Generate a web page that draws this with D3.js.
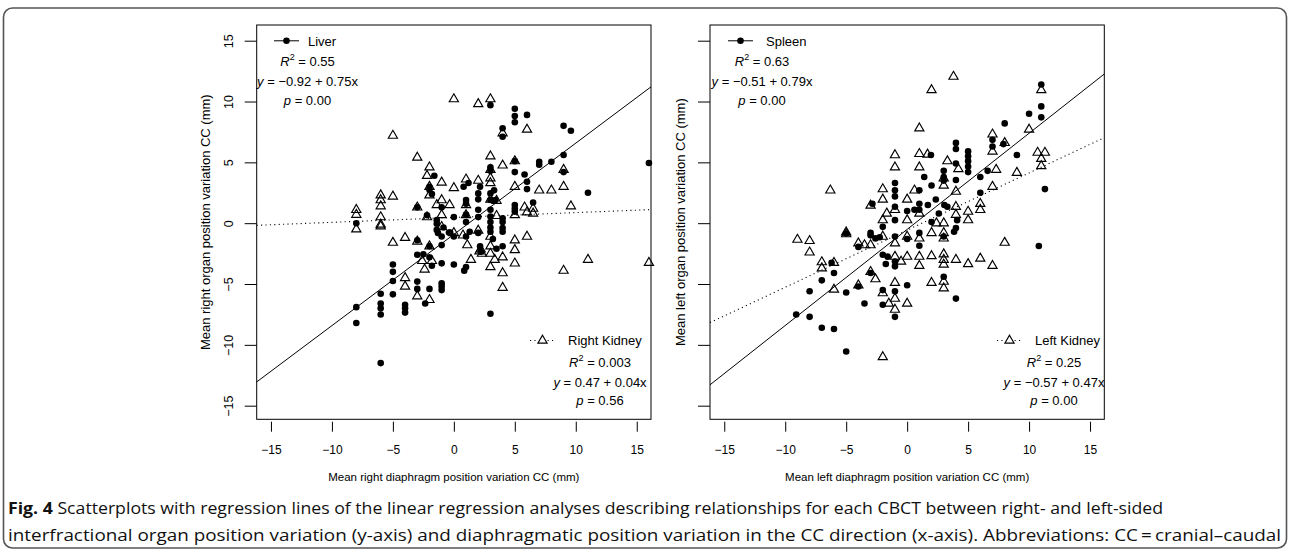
<!DOCTYPE html>
<html>
<head>
<meta charset="utf-8">
<script src="https://cdn.jsdelivr.net/npm/d3@7"></script>
<style>
  body { margin: 0; background: #fff; }
  svg { display: block; font-family: "Liberation Sans", Arial, sans-serif; }
</style>
</head>
<body>
<svg id="chart" width="1290" height="550"></svg>
<script>
// values (x = diaphragm, y = organ, mm)
const axisTicks = [-15, -10, -5, 0, 5, 10, 15];

const liver = [
  [-8, 0.0], [-8, -6.9], [-8, -8.2],
  [-6, -5.8], [-6, -6.6], [-6, -7.0], [-6, -7.5], [-6, -11.5],
  [-5, -3.4], [-5, -4.0], [-5, -4.75], [-5, -5.85],
  [-4, -6.7], [-4, -7.0], [-4, -7.35],
  [-3, 1.3], [-3, -1.4], [-3, -2.6], [-3, -4.8], [-3, -5.4],
  [-2.5, -2.55], [-2.35, -6.6], [-2.2, 0.65],
  [-2, 3.0], [-2, 2.75], [-2, -1.9], [-2, -2.8], [-2, -5.4],
  [-1.8, 2.4], [-1.8, -3.5], [-1.6, 3.9],
  [-1.4, 0.25], [-1.4, -0.05], [-1.4, -0.55], [-1.3, -0.8],
  [-1, 1.3], [-1, -1.1], [-1, -1.8], [-1, -3.3], [-1, -4.95], [-1, -5.2], [-1, -5.5],
  [-0.85, -0.35], [-0.4, -0.76], [-0.3, -0.78],
  [0, -1.1], [0, -3.4], [0, 0.5],
  [0.8, 3.0], [0.85, -3.9], [1, -3.6], [1, 1.9], [1, 1.6], [1, 0.7], [1, 0.1],
  [1, -1.1], [1.2, 3.3], [1.3, -0.7],
  [2, 2.45], [2, 1.96], [2, 1.1], [2, 0.5], [2.15, 3.0], [2, -0.8], [2.15, -1.9], [2.2, -2.35],
  [3, 9.7], [3, 4.6], [3, 4.3], [3, 2.45], [3, 1.9], [3, 1.1], [3, 0.55], [3, 0.1],
  [3, -0.35], [3, -0.7], [3.3, 2.7], [3.4, 1.9], [3.5, -2.1], [3, -7.45], [3.2, -1.3],
  [4, 7.8], [4, 7.1], [4, 0.4], [4, 0.1], [4, -0.4], [4, -0.7], [4, -1.9],
  [5, 9.4], [5, 8.8], [5, 8.3], [5, 5.1], [5, 4.2], [5, 1.2], [5, 0.95], [5, 1.5],
  [5.8, 4.0], [6, 8.9], [6, 3.4], [6, 2.8], [6.5, 1.7],
  [7, 5.05], [7, 4.8], [8, 5.05], [9, 8.0], [9.6, 7.6], [9, 5.6], [9, 4.2],
  [11, 2.5], [16, 4.95]
];

const rightKidney = [
  [-8, 1.1], [-8, 0.7], [-8, -0.5],
  [-6, 2.3], [-6, 1.9], [-6, 1.4], [-6, 0.5], [-6, -0.1], [-6, -0.25],
  [-5, 7.2], [-5, 2.2], [-5, -1.6],
  [-4, -1.2], [-4, -4.5], [-4, -5.2],
  [-3, 5.4], [-3, 1.3], [-3, -1.5], [-3, -6.0],
  [-2.6, -3.1], [-2.4, -3.8], [-2.2, 3.9], [-2.2, 0.5],
  [-2, 4.6], [-2, 3.0], [-2, 2.3], [-2, -1.9], [-2, -6.3],
  [-1.8, -3.1], [-1.4, 1.5], [-1, 3.35], [-1, 1.9], [-1, 0.67], [-1, -0.3], [-0.35, 1.5],
  [0, 10.2], [0, 2.9], [0, -0.8], [0.75, -1.0], [1, 3.6], [1, 1.5], [1, 0.67],
  [1.1, -1.8], [1.4, -3.0],
  [2, 9.8], [2, 3.5], [2, -0.6], [2.1, -2.3], [2.3, -2.5], [2.2, -2.15],
  [3, 10.2], [3, 5.5], [3, 4.4], [3, 3.7], [3, 3.3], [3, 1.95], [3, -1.1], [3, -1.9],
  [3, -2.5], [3, -3.6], [3.35, -3.0], [3.5, 1.85], [3.5, 0.6],
  [4, 7.4], [4, 4.75], [4, -2.8], [4, -4.1], [4, -5.3],
  [5, 5.1], [5, 3.0], [5, 0.67], [5, -1.4], [5, -2.2], [5, -3.3],
  [5.8, 1.3], [6, 7.7], [6, 0.9], [6, -1.1], [6.5, 1.2], [6.5, 0.8],
  [7, 2.7], [8, 2.7], [9, 4.4], [9, 3.0], [9, -3.9], [9.6, 1.4], [11, -3.0], [16, -3.25]
];

const spleen = [
  [-9.1, -7.5], [-8, -7.7], [-8, -5.6], [-7, -4.7], [-7, -8.6], [-6.2, -3.25],
  [-6, -4.1], [-6, -8.7], [-5, -5.7], [-5, -10.55], [-5, -0.85],
  [-4, -1.95], [-4, -5.2], [-3.5, -6.6], [-3, -0.8], [-3, -1.0], [-3, -4.1],
  [-2.85, 1.6], [-2.6, -1.25], [-2.25, -1.15], [-2, -0.3], [-2, -2.6], [-2, -5.5],
  [-2, -6.7], [-1.75, -3.35], [-1.6, -2.75],
  [-1, 3.3], [-1, 2.7], [-1, 2.2], [-1, 1.35], [-1, 0.25], [-1, -1.1], [-1, -3.15],
  [-1, -3.55], [-1, -5.6], [-1, -7.7],
  [0, 1.0], [0, -1.3], [0, -5.1], [0.6, 1.1],
  [1, 2.7], [1, 1.6], [1, 1.1], [1, -0.8], [1, -1.85], [1.4, 3.8], [1.7, 1.5],
  [1.95, 5.6], [2, 3.1], [2, 0.1], [2.35, 1.95], [2.6, 0.8],
  [3, 4.3], [3, 3.8], [3, 3.5], [3, -1.1], [3, -4.4], [3.05, 1.5], [3.3, 1.35], [3.85, -0.7],
  [4, 6.6], [4, 6.1], [4, 4.9], [4, 3.55], [4, -0.4], [4, -6.2], [4.1, 0.25],
  [5, 5.9], [5, 5.5], [5, 5.1], [5, 4.65], [5, 4.2],
  [6, 3.8], [6, 2.5], [6.6, 4.3],
  [7, 6.85], [7, 6.3], [7.9, 6.5], [8, 8.2], [9, 5.6], [10, 9.0], [10.8, -1.87],
  [11, 11.4], [11, 9.6], [11, 8.7], [11.3, 2.8]
];

const leftKidney = [
  [-9, -1.35], [-8, -1.45], [-8, -2.4], [-7, -3.2], [-7, -3.7], [-6.3, 2.7],
  [-6, -3.25], [-6, -5.45], [-5, -0.75], [-5, -0.9],
  [-4, -1.65], [-4, -5.1], [-3.5, -1.8], [-3, -1.8], [-3, 1.45], [-3, -4.0], [-2.6, -4.6],
  [-2, 2.8], [-2, 1.95], [-2, 0.25], [-2, -1.1], [-2, -5.75], [-2, -11.0],
  [-1.67, 0.8], [-1.5, -6.6],
  [-1, 5.6], [-1, 4.6], [-1, 1.1], [-1, -1.65], [-1, -2.75], [-1, -4.9], [-1, -6.2],
  [-1, -7.1], [-0.5, -3.15],
  [0, 1.95], [0, 0.25], [0, -1.1], [0, -2.75], [0, -6.6], [0.6, 2.7],
  [1, 7.8], [1, 5.7], [1, 4.6], [1, 0.8], [1, -1.25], [1, -2.75], [1, -3.5], [1.67, 5.65],
  [2, 10.95], [2, -0.8], [2, -2.7], [2, -4.9], [2.4, 0.0],
  [3, 3.7], [3, 3.1], [3, 0.0], [3, -0.8], [3, -1.25], [3, -2.55], [3, -3.0], [3, -3.4],
  [3, -4.8], [3, -5.35], [3.3, 5.1], [3.8, 12.05],
  [4, 2.6], [4, 1.35], [4, 0.7], [4, -3.0], [4.2, 4.45],
  [5, 0.95], [5, 0.25], [5, -3.35],
  [6, 1.6], [6, 1.1], [6, -2.9],
  [7, 7.3], [7, 5.9], [7, 3.0], [7, -3.5], [7.3, 4.4],
  [8, 6.6], [8, -1.6], [9, 4.15], [10, 7.7], [10.7, 5.8], [11.3, 5.8], [11, 5.3],
  [11, 4.7], [11, 10.95]
];

// regression fits [intercept, slope] and stats as printed
const liverFit = [-0.92, 0.75];
const rightKidneyFit = [0.47, 0.04];
const spleenFit = [-0.51, 0.79];
const leftKidneyFit = [-0.57, 0.47];
const rSquared = { liver: "0.55", rightKidney: "0.003", spleen: "0.63", leftKidney: "0.25" };
const pValues = { liver: "0.00", rightKidney: "0.56", spleen: "0.00", leftKidney: "0.00" };

const caption = [
  "Scatterplots with regression lines of the linear regression analyses describing relationships for each CBCT between right- and left-sided",
  "interfractional organ position variation (y-axis) and diaphragmatic position variation in the CC direction (x-axis). Abbreviations: CC\u2009=\u2009cranial\u2013caudal"
];

const plot = { top: 25, bottom: 419.3, width: 394.3 };
const xDomain = [-16.17, 16.17];
const yDomain = [-16.12, 16.29];
const fmt = d3.format(".2f");

const panels = [
  {
    left: 256.7,
    xLabel: "Mean right diaphragm position variation CC (mm)",
    yLabel: "Mean right organ position variation CC (mm)",
    yTickLabels: true, yLabelX: 210,
    solid: { name: "Liver", points: liver, fit: liverFit, r2: rSquared.liver, p: pValues.liver },
    dotted: { name: "Right Kidney", points: rightKidney, fit: rightKidneyFit, r2: rSquared.rightKidney, p: pValues.rightKidney },
    topKey: { lineX: 274, textX: 308, center: 307.5 },
    bottomKey: { lineX: 530, textX: 568, center: 600 }
  },
  {
    left: 710,
    xLabel: "Mean left diaphragm position variation CC (mm)",
    yLabel: "Mean left organ position variation CC (mm)",
    yTickLabels: false, yLabelX: 685,
    solid: { name: "Spleen", points: spleen, fit: spleenFit, r2: rSquared.spleen, p: pValues.spleen },
    dotted: { name: "Left Kidney", points: leftKidney, fit: leftKidneyFit, r2: rSquared.leftKidney, p: pValues.leftKidney },
    topKey: { lineX: 728, textX: 766, center: 762 },
    bottomKey: { lineX: 997, textX: 1035, center: 1054 }
  }
];

const trianglePath = "M0,-5.3L4.6,2.65L-4.6,2.65Z";

const addStats = (g, series, cx, baselines) => {
  const r2 = g.append("text").attr("x", cx).attr("y", baselines[0]).attr("text-anchor", "middle");
  r2.append("tspan").attr("font-style", "italic").text("R");
  r2.append("tspan").attr("font-size", 9).attr("dy", -5.5).text("2");
  r2.append("tspan").attr("dy", 5.5).text(" = " + series.r2);

  const eq = g.append("text").attr("x", cx).attr("y", baselines[1]).attr("text-anchor", "middle");
  eq.append("tspan").attr("font-style", "italic").text("y");
  eq.append("tspan").text(` = ${fmt(series.fit[0])} + ${fmt(series.fit[1])}x`);

  const p = g.append("text").attr("x", cx).attr("y", baselines[2]).attr("text-anchor", "middle");
  p.append("tspan").attr("font-style", "italic").text("p");
  p.append("tspan").text(" = " + series.p);
};

const drawPanel = (svg, panel) => {
  const x = d3.scaleLinear().domain(xDomain).range([panel.left, panel.left + plot.width]);
  const y = d3.scaleLinear().domain(yDomain).range([plot.bottom, plot.top]);
  const g = svg.append("g").attr("font-size", 13).attr("fill", "#000");

  // x axis: ticks sit a little below the box
  const xAxis = g.append("g").attr("transform", `translate(0,${plot.bottom + 2.4})`)
    .call(d3.axisBottom(x).tickValues(axisTicks).tickSize(10).tickPadding(14)
      .tickFormat(d3.format("d")));
  xAxis.select(".domain").remove();
  xAxis.selectAll("text").attr("font-size", 12).attr("font-family", "Liberation Sans, Arial, sans-serif")
    .attr("fill", "#000").attr("dy", "0.71em");

  // y axis
  const yAxis = g.append("g").attr("transform", `translate(${panel.left},0)`)
    .call(d3.axisLeft(y).tickValues(axisTicks).tickSize(12)
      .tickFormat(panel.yTickLabels ? d3.format("d") : ""));
  yAxis.select(".domain").remove();
  yAxis.selectAll("text").attr("font-size", 12.5).attr("font-family", "Liberation Sans, Arial, sans-serif")
    .attr("fill", "#000").attr("text-anchor", "middle").attr("dy", 0).attr("x", 0)
    .attr("transform", "translate(-23.5,0) rotate(-90)");
  g.selectAll(".tick line").attr("stroke", "#000");

  g.append("rect")
    .attr("x", panel.left).attr("y", plot.top)
    .attr("width", plot.width).attr("height", plot.bottom - plot.top)
    .attr("fill", "none").attr("stroke", "#000").attr("stroke-width", 1);

  g.append("text")
    .attr("x", x(0)).attr("y", 481).attr("text-anchor", "middle").attr("font-size", 11.5)
    .text(panel.xLabel);
  g.append("text")
    .attr("transform", `translate(${panel.yLabelX},${y(0) - 1}) rotate(-90)`)
    .attr("text-anchor", "middle").attr("font-size", 13)
    .text(panel.yLabel);

  // regression lines across the full x range
  const fitLine = fit => d3.line().x(d => x(d)).y(d => y(fit[0] + fit[1] * d))(xDomain);
  g.append("path").attr("d", fitLine(panel.solid.fit))
    .attr("stroke", "#000").attr("stroke-width", 1).attr("fill", "none");
  g.append("path").attr("d", fitLine(panel.dotted.fit))
    .attr("stroke", "#000").attr("stroke-width", 1.1).attr("stroke-dasharray", "1.1,3.3").attr("fill", "none");

  g.append("g").selectAll("circle").data(panel.solid.points).join("circle")
    .attr("cx", d => x(d[0])).attr("cy", d => y(d[1])).attr("r", 3.3).attr("fill", "#000");
  g.append("g").selectAll("path").data(panel.dotted.points).join("path")
    .attr("d", trianglePath).attr("transform", d => `translate(${x(d[0])},${y(d[1])})`)
    .attr("fill", "none").attr("stroke", "#000").attr("stroke-width", 1.15);

  // legends
  const tk = panel.topKey;
  g.append("line").attr("x1", tk.lineX).attr("x2", tk.lineX + 25).attr("y1", 40.8).attr("y2", 40.8)
    .attr("stroke", "#000");
  g.append("circle").attr("cx", tk.lineX + 12.5).attr("cy", 40.8).attr("r", 3.3).attr("fill", "#000");
  g.append("text").attr("x", tk.textX).attr("y", 45.5).text(panel.solid.name);
  addStats(g, panel.solid, tk.center, [65.5, 85.5, 104.5]);

  const bk = panel.bottomKey;
  g.append("line").attr("x1", bk.lineX).attr("x2", bk.lineX + 24).attr("y1", 340.5).attr("y2", 340.5)
    .attr("stroke", "#000").attr("stroke-width", 1.1).attr("stroke-dasharray", "1.1,3.3");
  g.append("rect").attr("x", bk.lineX + 7).attr("y", 333).attr("width", 10).attr("height", 10).attr("fill", "#fff");
  g.append("path").attr("d", trianglePath).attr("transform", `translate(${bk.lineX + 12.5},340.5)`)
    .attr("fill", "none").attr("stroke", "#000").attr("stroke-width", 1.15);
  g.append("text").attr("x", bk.textX).attr("y", 345).text(panel.dotted.name);
  addStats(g, panel.dotted, bk.center, [366.5, 386.5, 404.5]);
};

const main = () => {
  const svg = d3.select("#chart");
  svg.append("rect").attr("width", 1290).attr("height", 550).attr("fill", "#fff");
  svg.append("rect")
    .attr("x", 3.5).attr("y", 8).attr("width", 1283).attr("height", 540).attr("rx", 9)
    .attr("fill", "none").attr("stroke", "#555").attr("stroke-width", 1.6);

  panels.forEach(p => drawPanel(svg, p));

  const cap = svg.append("g").attr("font-family", "'Open Sans', 'Noto Sans', sans-serif")
    .attr("font-size", 16.5).attr("fill", "#111");
  const line1 = cap.append("text").attr("x", 8).attr("y", 514)
    .attr("textLength", 1155).attr("lengthAdjust", "spacingAndGlyphs");
  line1.append("tspan").attr("font-weight", "bold").text("Fig. 4");
  line1.append("tspan").text(" " + caption[0]);
  cap.append("text").attr("x", 8).attr("y", 541)
    .attr("textLength", 1273).attr("lengthAdjust", "spacingAndGlyphs")
    .text(caption[1]);
};
window.onload = main;
</script>
</body>
</html>
